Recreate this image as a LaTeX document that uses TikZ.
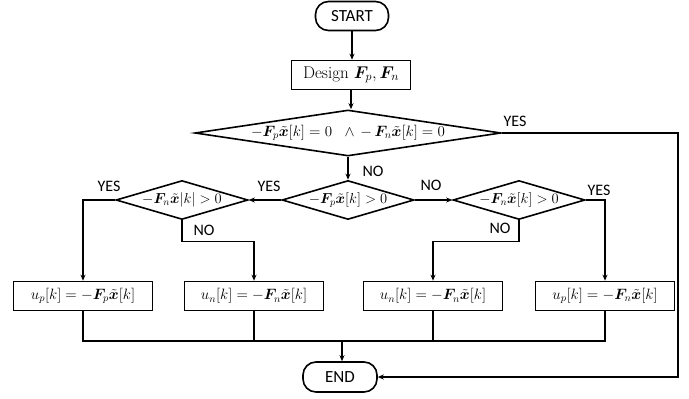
\RequirePackage{fix-cm}
\documentclass[tikz,border=0pt]{standalone}
\usepackage{amsmath,bm}
\usepackage{fontspec}
\newfontfamily\labfont{Carlito}
\usetikzlibrary{shapes.geometric,arrows.meta}
\begin{document}
\begin{tikzpicture}[x=1pt,y=-1pt,
 line width=1.6pt,
 arr/.style={-{Stealth[length=6pt,width=5pt]}},
 term/.style={draw, rounded corners=13pt, minimum width=73pt, minimum height=29pt, inner sep=0pt, font=\labfont\fontsize{17}{20}\selectfont},
 procbox/.style={draw, minimum width=139pt, minimum height=29pt, inner sep=0pt, font=\fontsize{15}{18}\selectfont},
 bigdec/.style={draw, diamond, aspect=6.65, minimum width=306pt, minimum height=46pt, inner sep=0pt, font=\fontsize{15}{18}\selectfont},
 dec/.style={draw, diamond, aspect=3.3, minimum width=132pt, minimum height=39pt, inner sep=0pt, font=\fontsize{14.5}{17}\selectfont},
 lab/.style={font=\labfont\fontsize{16}{19}\selectfont, inner sep=0pt},
]
\useasboundingbox (0,0) rectangle (689,399);
\node[term] (start) at (352,16) {START};
\node[procbox, minimum width=119pt, font=\fontsize{17}{20}\selectfont] (design) at (351,75) {Design $\bm{F}_p, \bm{F}_n$};
\node[bigdec] (d0) at (348,133) {$-\bm{F}_p\tilde{\bm{x}}[k]=0\ \ \wedge\,-\,\bm{F}_n\tilde{\bm{x}}[k]=0$};
\node[dec] (d1) at (348,200) {$-\bm{F}_p\tilde{\bm{x}}[k]>0$};
\node[dec] (dl) at (182,200) {$-\bm{F}_n\tilde{\bm{x}}|k|>0$};
\node[dec] (dr) at (519,200) {$-\bm{F}_n\tilde{\bm{x}}[k]>0$};
\node[procbox] (b1) at (83,296) {$u_p[k]=-\bm{F}_p\tilde{\bm{x}}[k]$};
\node[procbox] (b2) at (254,296) {$u_n[k]=-\bm{F}_n\tilde{\bm{x}}[k]$};
\node[procbox] (b3) at (433,296) {$u_n[k]=-\bm{F}_n\tilde{\bm{x}}[k]$};
\node[procbox] (b4) at (605,296) {$u_p[k]=-\bm{F}_n\tilde{\bm{x}}[k]$};
\node[term, minimum width=74pt, minimum height=30pt] (end) at (340,377) {END};
\coordinate (m) at (342,341);
\coordinate (rc) at (678,0);
% labels
\node[lab] (y0) at (515,121) {YES};
\node[lab] (n0) at (373,171) {NO};
\node[lab] (yl) at (109,186) {YES};
\node[lab] (ym) at (269,186) {YES};
\node[lab] (nl) at (204,230) {NO};
\node[lab] (nm) at (431,185) {NO};
\node[lab] (yr) at (599,190) {YES};
\node[lab] (nr) at (500,228) {NO};
% connectors
\draw[arr] (start.south) -- (start.south |- design.north);
\draw[arr] (design.south) -- (design.south |- d0.north);
\draw[arr] (d0.south) -- (d1.north);
\draw[arr] (d1.west) -- (dl.east);
\draw[arr] (d1.east) -- (dr.west);
\draw[arr] (dl.west) -| (b1.north);
\draw[arr] (dl.south) -- ++(0,21) -| (b2.north);
\draw[arr] (dr.east) -| (b4.north);
\draw[arr] (dr.south) -- ++(0,21) -| (b3.north);
\draw (b1.south) -- (b1.south |- m) -- (b4.south |- m) -- (b4.south);
\draw (b2.south) -- (b2.south |- m);
\draw (b3.south) -- (b3.south |- m);
\draw[arr] (m) -- (m |- end.north);
\draw[arr] (d0.east) -- (d0.east -| rc) -- (rc |- end.east) -- (end.east);
\end{tikzpicture}
\end{document}
